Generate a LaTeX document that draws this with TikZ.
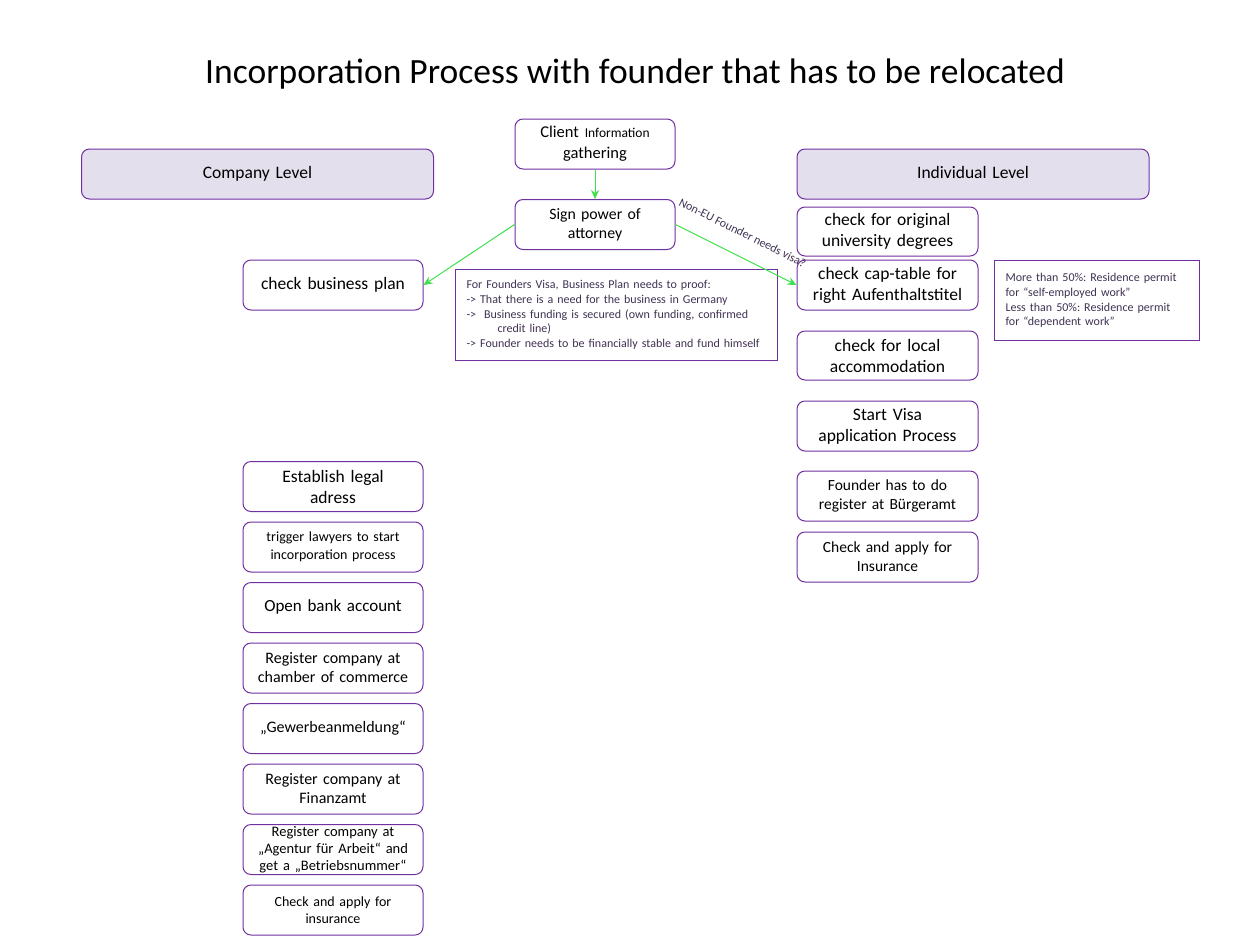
\documentclass[tikz,border=0pt]{standalone}
\usepackage{fontspec}
\setmainfont{Carlito}
\frenchspacing
\usetikzlibrary{arrows.meta, positioning}
\definecolor{boxborder}{HTML}{7030A0}
\definecolor{levelfill}{HTML}{E4DFEC}
\definecolor{flowgreen}{HTML}{3EE04E}
\definecolor{notetext}{HTML}{3F3151}
\newcommand{\fs}[2]{\fontsize{#1}{#2}\selectfont}
\tikzset{
    stepbox/.style={
        rectangle, rounded corners=8pt,
        draw=boxborder, line width=1pt, fill=white,
        minimum width=181pt, minimum height=50pt,
        text width=174pt, align=center, inner sep=1pt,
        font=\fs{17.5}{21}
    },
    levelbox/.style={
        stepbox, fill=levelfill,
        minimum width=352pt, text width=340pt
    },
    notebox/.style={
        rectangle, draw=boxborder, line width=1pt,
        text=notetext, align=left,
        inner xsep=11pt, inner ysep=2pt,
        font=\fs{12}{14.7}
    },
    flow/.style={
        -{Stealth[length=9pt, width=8pt]}, line width=1pt, color=flowgreen
    },
    flow label/.style={
        font=\fs{12}{14}, text=notetext, inner sep=1pt
    }
}

\begin{document}
\begin{tikzpicture}[x=1pt, y=1pt, node distance=9.5pt]

    \useasboundingbox (0,0) rectangle (1258,-940);

    % Title
    \node[font=\fs{35.5}{40}] (title) at (635,-74) {Incorporation Process with founder that has to be relocated};

    % Levels
    \node[levelbox] (company) at (257.5,-174) {\strut Company Level};
    \node[levelbox] (individual) at (973,-174) {\strut Individual Level};

    % Start
    \node[stepbox, minimum width=160pt, text width=154pt] (client) at (595,-144)
        {\fs{16.5}{20}Client {\fs{13.5}{20}Information}\\gathering};
    \node[stepbox, minimum width=160pt, text width=154pt, font=\fs{15.8}{19}] (poa) at (595,-224.5)
        {Sign power of\\attorney};

    % Company side
    \node[stepbox, minimum width=180pt] (bplan) at (333,-285) {\strut check business plan};
    \node[notebox, minimum width=322pt, minimum height=91pt, text width=300pt, anchor=north west] (visanote) at (455,-269)
        {For Founders Visa, Business Plan needs to proof:\\
         -> That there is a need for the business in Germany\\
         ->\ \ Business funding is secured (own funding, confirmed\\
         \hspace*{31pt}credit line)\\
         -> Founder needs to be financially stable and fund himself};

    \node[stepbox, minimum width=180pt] (address) at (333,-486.5) {Establish legal\\adress};
    \node[stepbox, minimum width=180pt, below=of address, font=\fs{14}{18}] (lawyers) {trigger lawyers to start\\incorporation process};
    \node[stepbox, minimum width=180pt, below=of lawyers, font=\fs{17}{21}] (bank) {\strut Open bank account};
    \node[stepbox, minimum width=180pt, below=of bank, font=\fs{16}{19}] (chamber) {Register company at\\chamber of commerce};
    \node[stepbox, minimum width=180pt, below=of chamber, font=\fs{16}{19}] (gewerbe) {\strut „Gewerbeanmeldung“};
    \node[stepbox, minimum width=180pt, below=of gewerbe, font=\fs{16}{19}] (finanzamt) {Register company at\\Finanzamt};
    \node[stepbox, minimum width=180pt, below=of finanzamt, font=\fs{14.5}{17}] (agentur) {Register company at\\„Agentur für Arbeit“ and\\get a „Betriebsnummer“};
    \node[stepbox, minimum width=180pt, below=of agentur, font=\fs{14}{17}] (cinsure) {Check and apply for\\insurance};

    % Individual side
    \node[stepbox, minimum height=49pt] (degrees) at (887.5,-231.5) {check for original\\university degrees};
    \node[stepbox] (captable) at (887.5,-285) {check cap-table for\\right Aufenthaltstitel};
    \node[notebox, minimum width=205pt, minimum height=80pt, text width=183pt, anchor=north west] (permitnote) at (994,-260)
        {More than 50\%: Residence permit\\
         for “self-employed work”\\
         Less than 50\%: Residence permit\\
         for “dependent work”};
    \node[stepbox, minimum height=49pt] (housing) at (887.5,-355.5) {check for local\\accommodation};
    \node[stepbox] (visa) at (887.5,-426) {Start Visa\\application Process};
    \node[stepbox, font=\fs{15.5}{19}] (buergeramt) at (887.5,-496) {Founder has to do\\register at Bürgeramt};
    \node[stepbox, font=\fs{15.5}{19}] (iinsure) at (887.5,-557) {Check and apply for\\Insurance};

    % Edges
    \draw[flow] (client) -- (poa);
    \draw[flow] (poa.west) -- (bplan.east);
    \draw[flow] (poa.east) -- node[flow label, sloped, above=17pt, pos=0.47] {Non-EU Founder needs visa?} (captable.west);

\end{tikzpicture}
\end{document}
